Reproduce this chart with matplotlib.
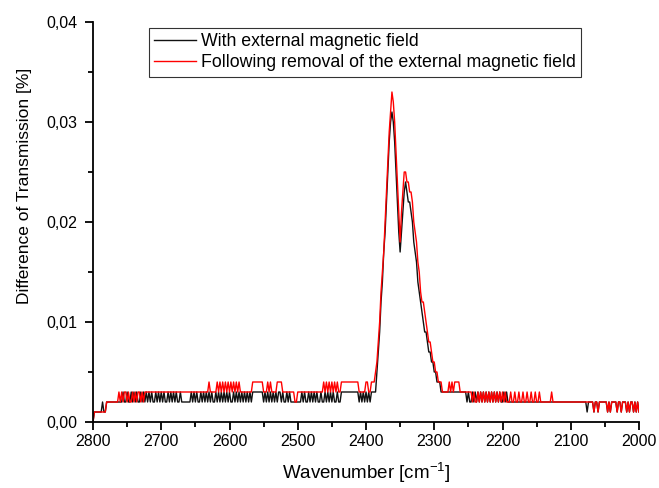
import numpy as np
import matplotlib
matplotlib.use("Agg")
import matplotlib.pyplot as plt
from matplotlib.ticker import MultipleLocator, FuncFormatter

plt.rcParams['font.family'] = ['Liberation Sans', 'DejaVu Sans']
plt.rcParams['mathtext.fontset'] = 'custom'
plt.rcParams['mathtext.rm'] = 'Liberation Sans'
plt.rcParams['mathtext.it'] = 'Liberation Sans:italic'
plt.rcParams['mathtext.bf'] = 'Liberation Sans:bold'

# ---- data (values in units of 0.001 %), wavenumber step 2 cm^-1 ----
WN_STEP = 2
# left baseline: 2800 -> 2388
wn_left_start = 2800
black_left = (
    [0, 1, 1, 1, 1, 1, 1, 2, 1, 1]
    + [2, 2, 2, 2, 2, 2, 2, 2, 2, 2, 2, 2]
    + [3, 2, 2, 3, 2, 2, 3, 2, 3, 2, 3, 2, 2, 3, 2, 3, 2, 3]
    + [2, 3, 2, 3, 2, 2, 3, 2, 3, 2, 3, 2, 3, 2, 2, 3, 2, 3, 2, 3,
       2, 3, 2, 2, 3, 2, 2, 2, 2, 2, 2, 2,
       3, 2, 3, 2, 3, 2, 2, 3, 2, 3, 2, 3]
    + [2, 3, 2, 3, 2, 2, 3, 2, 3, 2, 3, 2, 3, 2, 3, 2, 3, 2, 2, 3, 2, 3, 2, 3, 2]
    + [3, 2, 3, 2, 3, 2, 3, 2, 3, 3, 3, 3, 3, 3, 3, 3, 2]
    + [3, 2, 3, 2, 3, 2, 3, 2, 3, 2, 3, 3, 2, 3, 2]
    + [2, 3, 2, 3, 2, 2, 2, 2, 2, 2, 2, 2,
       3, 2, 3, 2, 2, 3, 2, 3, 2, 3, 2, 3, 2, 2, 3, 2]
    + [2, 3, 2, 3, 2, 3, 2, 3, 2, 2, 3, 2]
    + [2, 3, 3, 3, 3, 3, 3, 3, 3, 3, 3, 3, 3, 3]
    + [2, 3, 2, 3, 2, 3, 2, 3, 2, 3, 3, 3]
)
red_left = (
    [0, 1, 1, 1, 1, 1, 1, 1, 1, 1]
    + [2, 2, 2, 2, 2, 2, 2, 2, 2, 3, 2, 3]
    + [2, 3, 3, 2, 3, 2, 2, 3, 2, 3, 2, 3, 3, 2, 3, 2, 3, 3]
    + [3] * 44
    + [3, 4, 3, 3, 3, 3, 3, 4, 3, 4, 3, 4, 3, 4, 3, 4, 3, 4, 3, 4, 3, 4, 3, 4, 3]
    + [3, 3, 3, 3, 3, 3, 3, 3, 4, 4, 4, 4, 4, 4, 4, 4, 3]
    + [3, 3, 4, 3, 4, 3, 3, 3, 3, 4, 4, 4, 4, 3, 3]
    + [3, 3, 3, 3, 3, 3, 3, 2, 2] + [3] * 19
    + [4, 3, 4, 3, 4, 3, 4, 3, 4, 3, 4, 3]
    + [3] + [4] * 13
    + [3, 3, 3, 3, 3, 4, 4, 3, 3, 4, 4, 4]
)

# peak region: 2386 -> 2290
wn_peak_start = 2386
black_peak = [3, 5, 7, 9, 12, 14, 17, 19, 22, 25, 28, 30, 31, 30, 28, 25, 22, 19,
              17, 19, 21, 23, 24, 23, 22, 22, 21, 20, 18, 17, 16, 14, 13, 12, 11,
              10, 9, 9, 8, 7, 7, 6, 6, 5, 5, 4, 4, 4, 3]
red_peak = [5, 6, 8, 10, 13, 15, 17, 20, 23, 26, 29, 31, 33, 32, 30, 27, 24, 21,
            18, 21, 23, 25, 25, 24, 24, 23, 23, 22, 20, 19, 18, 16, 15, 13, 12,
            12, 11, 10, 9, 8, 8, 7, 6, 6, 5, 5, 4, 4, 4]

# right baseline: 2288 -> 2000
wn_right_start = 2288
tail_end = [2, 1, 2, 2, 1, 2, 2, 2, 2, 2, 2, 1, 2, 1, 2, 2, 2, 2, 1, 2, 2, 1,
            2, 2, 2, 1, 2, 1, 2, 2, 1, 2, 1, 2, 1]
black_right = (
    [3] * 18
    + [2, 3, 2, 2, 3, 2, 3, 2, 3, 2, 3, 2, 3, 2, 3, 2, 3, 2, 3, 2, 3, 2, 3, 2,
       3, 2, 2, 3, 2, 3, 2]
    + [2] * 31
    + [2] * 26 + [1, 2, 2, 2]
    + tail_end
)
red_right = (
    [3, 3, 3, 3, 3, 4, 3, 4, 3, 4, 4, 4, 4, 3, 3, 3, 3, 3]
    + [3, 3, 3, 3, 2, 3, 2, 2, 3, 2, 3, 2, 3, 2, 3, 2, 3, 2, 3, 2, 3, 2, 3, 2,
       3, 2, 3, 2, 3, 2, 2]
    + [2, 3, 2, 2, 3, 2, 2, 3, 2, 2, 3, 2, 2, 3, 2, 2, 3, 2, 2, 3, 2, 2, 3, 2,
       2, 2, 2, 2, 2, 2, 2]
    + [3] + [2] * 29
    + tail_end
)

labels = ["With external magnetic field",
          "Following removal of the external magnetic field"]


def assemble(parts):
    xs, ys = [], []
    for start, vals in parts:
        xs.extend(start - WN_STEP * np.arange(len(vals)))
        ys.extend(vals)
    return np.array(xs, float), np.array(ys, float) / 1000.0


xb, yb = assemble([(wn_left_start, black_left), (wn_peak_start, black_peak),
                   (wn_right_start, black_right)])
xr, yr = assemble([(wn_left_start, red_left), (wn_peak_start, red_peak),
                   (wn_right_start, red_right)])

fig = plt.figure(figsize=(6.59, 4.88), dpi=100)
ax = fig.add_axes([93 / 659, 1 - 422 / 488, 546 / 659, 400 / 488])

ax.plot(xb, yb, color='#111111', lw=1.0, label=labels[0])
ax.plot(xr, yr, color='#ff0000', lw=1.0, label=labels[1])

ax.set_xlim(2800, 2000)
ax.set_ylim(0, 0.04)
ax.xaxis.set_major_locator(MultipleLocator(100))
ax.xaxis.set_minor_locator(MultipleLocator(50))
ax.yaxis.set_major_locator(MultipleLocator(0.01))
ax.yaxis.set_minor_locator(MultipleLocator(0.005))
ax.yaxis.set_major_formatter(FuncFormatter(lambda v, p: f"{v:.2f}".replace('.', ',')))

for s in ['top', 'right']:
    ax.spines[s].set_visible(False)
for s in ['left', 'bottom']:
    ax.spines[s].set_linewidth(1.3)
ax.tick_params(which='major', direction='out', length=6, width=1.3, labelsize=11.5)
ax.tick_params(axis='x', which='major', pad=3)
ax.tick_params(axis='y', which='major', pad=5)
ax.tick_params(which='minor', direction='out', length=3.5, width=1.3)

ax.set_xlabel("Wavenumber [cm$^{-1}$]", fontsize=13.5, labelpad=8)
ax.set_ylabel("Difference of Transmission [%]", fontsize=12.5)
ax.yaxis.set_label_coords(-0.112, 0.59)

leg = ax.legend(loc='upper left', bbox_to_anchor=(56 / 546, (422 - 28) / 400),
                borderaxespad=0, fontsize=12.8, frameon=True, fancybox=False,
                handlelength=2.33, handletextpad=0.3, borderpad=0.3,
                labelspacing=0.22)
leg.get_frame().set_edgecolor('black')
leg.get_frame().set_linewidth(0.8)

fig.savefig("out.png", dpi=100)
